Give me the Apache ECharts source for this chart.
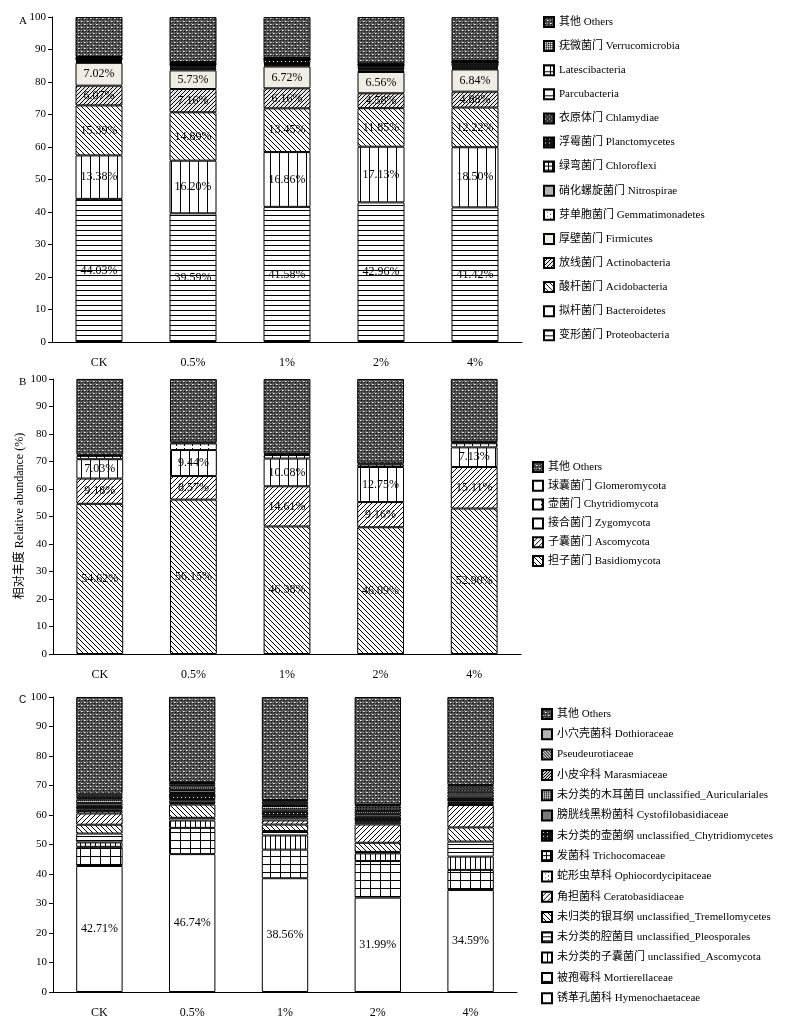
<!DOCTYPE html>
<html>
<head>
<meta charset="utf-8">
<script src="https://cdn.jsdelivr.net/npm/echarts@6/dist/echarts.min.js"></script>
<style>html,body{margin:0;padding:0;background:#fff}#c{width:806px;height:1024px}</style>
</head>
<body>
<div id="c"></div>
<script>
// ---------- DATA ----------
const categories = ['CK', '0.5%', '1%', '2%', '4%'];
const yTicks = [0, 10, 20, 30, 40, 50, 60, 70, 80, 90, 100];
const yAxisTitle = '相对丰度 Relative abundance (%)';

// Panel A: bacterial phyla (bottom -> top)
const proteobacteria   = [44.03, 39.59, 41.58, 42.96, 41.42];
const bacteroidetes    = [13.38, 16.20, 16.86, 17.13, 18.50];
const acidobacteria    = [15.39, 14.89, 13.45, 11.85, 12.22];
const actinobacteria   = [6.07, 7.16, 6.16, 4.58, 4.88];
const firmicutes       = [7.02, 5.73, 6.72, 6.56, 6.84];
const gemmatimonadetes = [0.3, 0.5, 0.4, 0.5, 0.3];
const nitrospirae      = [0.3, 0.3, 0.3, 0.3, 0.3];
const chloroflexi      = [0.3, 0.5, 0.4, 0.5, 0.4];
const planctomycetes   = [0.2, 0.3, 0.9, 0.6, 1.1];
const chlamydiae       = [0.1, 0.2, 0.2, 0.2, 0.1];
const parcubacteria    = [0.2, 0.2, 0.1, 0.2, 0.1];
const latescibacteria  = [0.1, 0.1, 0.1, 0.1, 0.1];
const verrucomicrobia  = [0.3, 0.5, 0.2, 0.2, 0.2];
const othersA          = [12.3, 13.8, 12.6, 14.3, 13.5];

// Panel B: fungal phyla
const basidiomycota   = [54.62, 56.15, 46.38, 46.09, 52.90];
const ascomycota      = [9.18, 8.57, 14.61, 9.16, 15.11];
const zygomycota      = [7.03, 9.44, 10.08, 12.75, 7.13];
const chytridiomycota = [1.2, 2.4, 1.3, 0.9, 1.5];
const glomeromycota   = [0.4, 0.4, 0.4, 0.4, 0.4];
const othersB         = [27.6, 23.0, 27.2, 30.7, 23.0];

// Panel C: fungal families
const hymenochaetaceae    = [42.71, 46.74, 38.56, 31.99, 34.59];
const mortierellaceae     = [6.5, 8.9, 9.7, 12.4, 6.8];
const uncAscomycota       = [1.5, 2.5, 4.8, 2.6, 4.5];
const uncPleosporales     = [3.0, 0.9, 1.5, 0.5, 5.1];
const uncTremellomycetes  = [3.0, 4.5, 2.2, 3.1, 4.8];
const ceratobasidiaceae   = [3.8, 0.5, 1.4, 6.2, 7.6];
const ophiocordycipitaceae= [0.8, 0.8, 0.9, 0.6, 0.7];
const trichocomaceae      = [0.6, 0.6, 0.7, 0.5, 0.5];
const uncChytridiomycetes = [1.2, 2.0, 1.3, 1.5, 1.4];
const cystofilobasidiaceae= [0.9, 1.0, 0.8, 0.9, 1.0];
const uncAuriculariales   = [1.2, 1.2, 1.2, 1.1, 0.9];
const marasmiaceae        = [0.5, 0.6, 0.6, 0.8, 0.8];
const pseudeurotiaceae    = [0.8, 0.6, 0.8, 0.7, 0.9];
const dothioraceae        = [0.7, 0.4, 0.6, 0.5, 0.6];
const othersC             = [32.8, 28.8, 34.9, 36.6, 29.8];

// ---------- PATTERNS (style only) ----------
function pat(w, h, bg, draw) {
  const c = document.createElement('canvas');
  c.width = w; c.height = h;
  const g = c.getContext('2d');
  g.fillStyle = bg; g.fillRect(0, 0, w, h);
  g.fillStyle = '#000';
  if (draw) draw(g, w, h);
  return { image: c, repeat: 'repeat' };
}
function px(g, x, y, col) { g.fillStyle = col || '#000'; g.fillRect(x, y, 1, 1); }
const P = {
  hlines5: pat(4, 5, '#fff', g => g.fillRect(0, 0, 4, 1)),
  hlines4: pat(4, 4, '#fff', g => g.fillRect(0, 0, 4, 1)),
  hlinesWide: pat(4, 6, '#fff', g => g.fillRect(0, 0, 4, 1)),
  vlines9: pat(9, 4, '#fff', g => g.fillRect(0, 0, 1, 4)),
  vlines5: pat(5, 4, '#fff', g => g.fillRect(0, 0, 1, 4)),
  bslash: pat(5, 5, '#fff', g => { for (let i = 0; i < 5; i++) px(g, i, i); }),
  fslash: pat(5, 5, '#fff', g => { for (let i = 0; i < 5; i++) px(g, 4 - i, i); }),
  fslashDense: pat(4, 4, '#e8e8e8', g => { for (let i = 0; i < 4; i++) px(g, 3 - i, i); }),
  fslashDark: pat(3, 3, '#ccc', g => { for (let i = 0; i < 3; i++) px(g, 2 - i, i); }),
  bslashDark: pat(3, 3, '#ccc', g => { for (let i = 0; i < 3; i++) px(g, i, i); }),
  cream: '#eeeee4',
  white: '#ffffff',
  gray: '#b4b4b4',
  midgray: '#7a7a7a',
  whiteDots: pat(6, 4, '#fff', g => { px(g, 0, 0); px(g, 3, 2, '#777'); }),
  whiteTick: pat(8, 4, '#fff', g => { px(g, 0, 0); px(g, 0, 1); }),
  blackDots: pat(4, 4, '#111', g => { px(g, 1, 1, '#fff'); }),
  darkDots: pat(4, 4, '#333', g => { px(g, 1, 1, '#ddd'); px(g, 3, 3, '#999'); }),
  smallGrid: pat(4, 4, '#fff', g => { g.fillRect(0, 0, 4, 1); g.fillRect(0, 0, 1, 4); }),
  bigGrid: pat(10, 8, '#fff', g => { g.fillRect(0, 0, 10, 1); g.fillRect(0, 0, 1, 8); }),
  medGrid: pat(6, 6, '#fff', g => { g.fillRect(0, 0, 6, 1); g.fillRect(0, 0, 1, 6); }),
  fineChecker: pat(2, 2, '#888', g => { px(g, 0, 0, '#222'); px(g, 1, 1, '#ddd'); }),
  others: pat(6, 6, '#4a4a4a', g => {
    px(g, 0, 0, '#f0f0f0'); px(g, 3, 3, '#f0f0f0');
    px(g, 1, 0, '#bbb'); px(g, 4, 3, '#bbb');
    px(g, 1, 1, '#111'); px(g, 4, 4, '#111'); px(g, 4, 1, '#111'); px(g, 1, 4, '#111');
    px(g, 3, 0, '#999'); px(g, 0, 3, '#999');
    px(g, 2, 2, '#777'); px(g, 5, 5, '#777');
  })
};

// ---------- SERIES DEFINITIONS ----------
const panelA = [
  ['变形菌门 Proteobacteria', proteobacteria, P.hlines5, true],
  ['拟杆菌门 Bacteroidetes', bacteroidetes, P.vlines9, true],
  ['酸杆菌门 Acidobacteria', acidobacteria, P.bslash, true],
  ['放线菌门 Actinobacteria', actinobacteria, P.fslashDense, true],
  ['厚壁菌门 Firmicutes', firmicutes, P.cream, true],
  ['芽单胞菌门 Gemmatimonadetes', gemmatimonadetes, P.whiteDots, false],
  ['硝化螺旋菌门 Nitrospirae', nitrospirae, P.gray, false],
  ['绿弯菌门 Chloroflexi', chloroflexi, P.smallGrid, false],
  ['浮霉菌门 Planctomycetes', planctomycetes, P.blackDots, false],
  ['衣原体门 Chlamydiae', chlamydiae, P.darkDots, false],
  ['Parcubacteria', parcubacteria, P.hlinesWide, false],
  ['Latescibacteria', latescibacteria, P.medGrid, false],
  ['疣微菌门 Verrucomicrobia', verrucomicrobia, P.fineChecker, false],
  ['其他 Others', othersA, P.others, false]
];
const panelB = [
  ['担子菌门 Basidiomycota', basidiomycota, P.bslash, true],
  ['子囊菌门 Ascomycota', ascomycota, P.fslash, true],
  ['接合菌门 Zygomycota', zygomycota, P.vlines9, true],
  ['壶菌门 Chytridiomycota', chytridiomycota, P.whiteTick, false],
  ['球囊菌门 Glomeromycota', glomeromycota, P.white, false],
  ['其他 Others', othersB, P.others, false]
];
const panelC = [
  ['锈革孔菌科 Hymenochaetaceae', hymenochaetaceae, P.white, true],
  ['被孢霉科 Mortierellaceae', mortierellaceae, P.bigGrid, false],
  ['未分类的子囊菌门 unclassified_Ascomycota', uncAscomycota, P.vlines5, false],
  ['未分类的腔菌目 unclassified_Pleosporales', uncPleosporales, P.hlines4, false],
  ['未归类的银耳纲 unclassified_Tremellomycetes', uncTremellomycetes, P.bslash, false],
  ['角担菌科 Ceratobasidiaceae', ceratobasidiaceae, P.fslash, false],
  ['蛇形虫草科 Ophiocordycipitaceae', ophiocordycipitaceae, P.whiteDots, false],
  ['发菌科 Trichocomaceae', trichocomaceae, P.smallGrid, false],
  ['未分类的壶菌纲 unclassified_Chytridiomycetes', uncChytridiomycetes, P.blackDots, false],
  ['膀胱线黑粉菌科 Cystofilobasidiaceae', cystofilobasidiaceae, P.midgray, false],
  ['未分类的木耳菌目 unclassified_Auriculariales', uncAuriculariales, P.fineChecker, false],
  ['小皮伞科 Marasmiaceae', marasmiaceae, P.fslashDark, false],
  ['Pseudeurotiaceae', pseudeurotiaceae, P.bslashDark, false],
  ['小穴壳菌科 Dothioraceae', dothioraceae, P.gray, false],
  ['其他 Others', othersC, P.others, false]
];

const FONT = "'Liberation Serif', 'Noto Sans CJK SC', serif";
const series = [];
[panelA, panelB, panelC].forEach((panel, pi) => {
  panel.forEach(([name, vals, color, lab]) => {
    series.push({
      name: name,
      type: 'bar',
      stack: 'S' + pi,
      xAxisIndex: pi,
      yAxisIndex: pi,
      barWidth: '50%',
      data: vals,
      itemStyle: { color: color, borderColor: '#000', borderWidth: 1 },
      emphasis: { disabled: true },
      label: {
        show: lab,
        position: 'inside',
        color: '#000',
        fontFamily: FONT,
        fontSize: 12,
        formatter: p => p.value.toFixed(2) + '%'
      }
    });
  });
});

const grids = [
  { left: 52, top: 17, width: 470, height: 325 },
  { left: 53, top: 379, width: 468, height: 275 },
  { left: 53, top: 697, width: 464, height: 295 }
];
const xAxes = grids.map((g, i) => ({
  type: 'category',
  gridIndex: i,
  data: categories,
  axisLine: { lineStyle: { color: '#000', width: 1 } },
  axisTick: { show: false },
  axisLabel: { color: '#000', fontFamily: FONT, fontSize: 12, margin: 15 }
}));
const yAxes = grids.map((g, i) => ({
  type: 'value',
  gridIndex: i,
  min: yTicks[0],
  max: yTicks[yTicks.length - 1],
  interval: yTicks[1] - yTicks[0],
  splitLine: { show: false },
  axisLine: { show: true, lineStyle: { color: '#000', width: 1 } },
  axisTick: { show: true, length: 4, lineStyle: { color: '#000' } },
  axisLabel: { color: '#000', fontFamily: FONT, fontSize: 11, margin: 6 }
}));

function legendOf(panel, left, top, gap) {
  return {
    data: panel.map(s => s[0]).reverse(),
    orient: 'vertical',
    left: left, top: top,
    padding: 0,
    itemWidth: 10, itemHeight: 10,
    itemGap: gap,
    icon: 'rect',
    selectedMode: false,
    textStyle: { color: '#000', fontFamily: FONT, fontSize: 11, lineHeight: 12 }
  };
}

const option = {
  animation: false,
  backgroundColor: '#fff',
  title: [
    { text: 'A', left: 14, top: 11, textStyle: { fontFamily: FONT, fontSize: 11, fontWeight: 'normal', color: '#000' } },
    { text: 'B', left: 14, top: 372, textStyle: { fontFamily: FONT, fontSize: 11, fontWeight: 'normal', color: '#000' } },
    { text: 'C', left: 14, top: 690, textStyle: { fontFamily: 'Liberation Sans', fontSize: 10, fontWeight: 'normal', color: '#000' } }
  ],
  graphic: [{
    type: 'text',
    x: 20, y: 516,
    rotation: Math.PI / 2,
    style: {
      text: yAxisTitle,
      fill: '#000',
      font: "12px 'Liberation Serif', 'Noto Sans CJK SC', serif",
      align: 'center',
      verticalAlign: 'middle'
    }
  }],
  grid: grids,
  xAxis: xAxes,
  yAxis: yAxes,
  legend: [
    legendOf(panelA, 543, 16, 12.1),
    legendOf(panelB, 532, 461, 6.8),
    legendOf(panelC, 541, 708, 8.3)
  ],
  series: series
};

const chart = echarts.init(document.getElementById('c'), null, { renderer: 'canvas' });
chart.setOption(option);
</script>
</body>
</html>
